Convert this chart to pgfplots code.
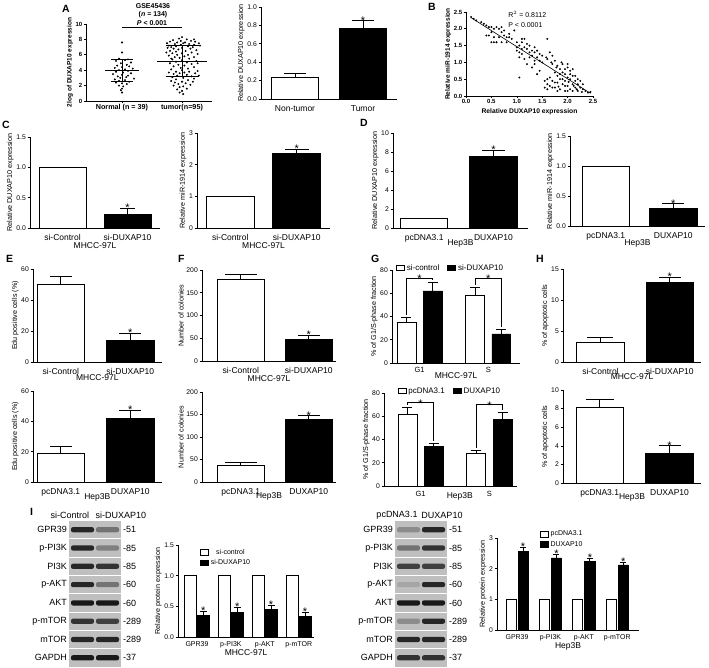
\documentclass[border=0pt]{standalone}
\usepackage{fontspec}
\setmainfont{Liberation Sans}
\usepackage{pgfplots}
\pgfplotsset{compat=1.18}

\pgfplotsset{
  gp/.style={scale only axis, anchor=south west, clip=false, ymin=0,
    axis x line*=bottom, axis y line*=left,
    axis line style={line width=0.8pt,-},
    tick style={black, line width=0.6pt}, tick align=outside, major tick length=2.5pt,
    ticklabel style={font=\fontsize{6.8}{7}\selectfont, inner sep=1.5pt},
    ylabel style={font=\fontsize{7.2}{8}\selectfont, inner sep=1pt},
    xlabel style={font=\fontsize{8.5}{9}\selectfont, inner sep=0pt},
    /pgf/number format/assume math mode=true,
    legend image code/.code={\draw[#1, line width=0.8pt] (0pt,-2.8pt) rectangle (8pt,2.8pt);}},
  cat/.style={xtick style={draw=none}, xticklabel style={font=\fontsize{8.5}{9}\selectfont, inner sep=0pt, yshift=-3.5pt}},
  xl/.style={xlabel style={at={(axis description cs:0.5,0)}, anchor=north, yshift=-#1}},
  dec/.style={y tick label style={/pgf/number format/.cd, fixed, fixed zerofill, precision=1, /tikz/.cd}},
  bar/.style={ybar, bar shift=0pt, draw=black, line width=0.8pt},
  err/.style={error bars/.cd, y dir=plus, y explicit,
    error bar style={line width=0.8pt, black},
    error mark options={rotate=90, line width=0.8pt, mark size=#1, black}},
  err/.default=11pt,
  lg/.style={legend style={draw=none, fill=none, inner sep=0pt, font=\fontsize{8}{9}\selectfont}},
}
\newcommand{\sig}[2]{\node[font=\fontsize{11}{11}\selectfont, anchor=south, inner sep=0pt, yshift=-3.5pt] at (axis cs:#1,#2) {*};}
\newcommand{\letter}[3]{\node[font=\bfseries\fontsize{10.5}{10}\selectfont, anchor=north west, inner sep=0pt] at (#1pt,#2pt) {#3};}

\begin{document}
\begin{tikzpicture}
\useasboundingbox (0,0) rectangle (709pt,667pt);

% ---------------- A: scatter
\begin{axis}[gp, at={(86pt,566pt)}, width=126pt, height=77pt, xmin=0.4, xmax=2.5, ymax=10,
  ytick={0,2,4,6,8,10}, xtick={1,2}, xticklabels={Normal (n = 39),tumor(n=95)},
  major tick length=2pt,
  ticklabel style={font=\bfseries\fontsize{6}{6}\selectfont},
  xticklabel style={font=\bfseries\fontsize{7.2}{8}\selectfont},
  ylabel={2log of DUXAP10 expression}, ylabel style={font=\bfseries\fontsize{6.5}{7}\selectfont}]
\addplot[only marks, mark=*, mark size=0.75pt, black] coordinates {
(1.0,7.6) (1.0,6.3) (0.95,5.5) (1.1,5.4) (1.05,5.3) (0.9,5.2) (1.15,5.0) (0.98,4.9)
(1.08,4.7) (0.92,4.6) (1.12,4.5) (1.0,4.4) (0.88,4.3) (1.18,4.2) (1.05,4.1) (0.95,4.0)
(1.1,3.9) (0.9,3.8) (1.02,3.7) (1.15,3.6) (0.85,3.5) (1.0,3.4) (1.1,3.3) (0.93,3.2)
(1.07,3.1) (0.97,3.0) (1.2,2.9) (0.88,2.8) (1.05,2.7) (0.95,2.6) (1.12,2.5) (0.9,2.4)
(1.0,2.3) (1.08,2.2) (0.95,2.0) (1.02,1.9) (1.0,1.6) (0.98,1.4) (1.0,1.1)};
\addplot[only marks, mark=*, mark size=0.75pt, black] coordinates {
(2.0,8.3) (1.95,8.1) (2.08,8.0) (1.85,7.9) (2.15,7.8) (1.8,7.7) (2.22,7.7) (1.92,7.6) (2.05,7.6) (1.75,7.5)
(2.28,7.5) (1.88,7.4) (2.12,7.4) (1.98,7.3) (2.2,7.3) (1.78,7.2) (2.3,7.2) (1.9,7.1) (2.1,7.1) (1.82,7.0)
(2.18,7.0) (2.0,6.9) (1.86,6.8) (2.14,6.8) (1.94,6.7) (2.24,6.6) (1.8,6.5) (2.06,6.5) (1.9,6.4) (2.16,6.3)
(1.84,6.2) (2.0,6.2) (2.26,6.1) (1.92,6.0) (2.1,6.0) (1.78,5.9) (2.04,5.8) (1.88,5.7) (2.2,5.7) (1.96,5.6)
(2.12,5.5) (1.84,5.4) (2.0,5.3) (2.24,5.2) (1.9,5.1) (2.08,5.0) (1.8,4.9) (2.16,4.8) (1.94,4.7) (2.04,4.6)
(1.86,4.5) (2.2,4.4) (1.98,4.3) (2.1,4.2) (1.82,4.1) (2.0,4.0) (2.26,3.9) (1.9,3.8) (2.12,3.8) (1.78,3.7)
(2.04,3.7) (1.96,3.6) (2.22,3.6) (1.86,3.5) (2.08,3.4) (1.92,3.3) (2.16,3.2) (1.84,3.1) (2.02,3.0) (2.2,2.9)
(1.9,2.8) (2.1,2.7) (1.82,2.6) (2.0,2.5) (2.18,2.5) (1.88,2.4) (2.06,2.3) (1.94,2.2) (2.14,2.1) (1.86,2.0)
(2.02,1.9) (1.96,1.8) (2.08,1.6) (1.92,1.5) (2.0,1.3) (1.96,1.1) (2.02,0.9)
(1.76,6.9) (1.98,7.8) (2.2,8.0) (1.82,5.5) (2.26,4.9) (2.28,3.3) (1.74,6.3) (2.02,7.5)};
% mean and SD
\addplot[black, line width=0.9pt] coordinates {(0.717,3.95) (1.283,3.95)};
\addplot[black, line width=0.9pt] coordinates {(1,2.5) (1,5.35)};
\addplot[black, line width=0.9pt] coordinates {(0.817,2.5) (1.183,2.5)};
\addplot[black, line width=0.9pt] coordinates {(0.817,5.35) (1.183,5.35)};
\addplot[black, line width=0.9pt] coordinates {(1.583,5.2) (2.417,5.2)};
\addplot[black, line width=0.9pt] coordinates {(2,3.2) (2,7.2)};
\addplot[black, line width=0.9pt] coordinates {(1.725,3.2) (2.275,3.2)};
\addplot[black, line width=0.9pt] coordinates {(1.725,7.2) (2.275,7.2)};
\draw[line width=0.9pt] (axis cs:1,9.6) -- (axis cs:2,9.6);
\node[font=\bfseries\fontsize{7}{7}\selectfont, anchor=south, inner sep=1pt] at (axis cs:1.5,9.6) {\textit{P} < 0.001};
\end{axis}
\node[font=\bfseries\fontsize{7}{7}\selectfont, inner sep=0pt] at (153pt,661pt) {GSE45436};
\node[font=\bfseries\fontsize{7}{7}\selectfont, inner sep=0pt] at (153pt,652.5pt) {(\textit{n} = 134)};

% ---------------- A: bars
\begin{axis}[gp, cat, dec, at={(261pt,568pt)}, width=136pt, height=92pt, xmin=0.5, xmax=2.5,
  ymax=1, ytick={0,0.2,0.4,0.6,0.8,1.0}, bar width=0.69, xtick={1,2},
  xticklabels={Non-tumor,Tumor}, ylabel={Relative DUXAP10 expression}]
\addplot[bar, fill=white, err] coordinates {(1,0.23) +- (0,0.045)};
\addplot[bar, fill=black, err] coordinates {(2,0.77) +- (0,0.08)};
\sig{2}{0.85}
\end{axis}

% ---------------- B: correlation
\begin{axis}[gp, at={(466pt,571pt)}, width=127pt, height=84pt, xmin=0, xmax=2.5, ymax=2.5,
  xtick={0,0.5,1,1.5,2,2.5}, ytick={0,0.5,1,1.5,2,2.5}, major tick length=2pt,
  ticklabel style={font=\bfseries\fontsize{6}{6}\selectfont},
  x tick label style={/pgf/number format/.cd, fixed, fixed zerofill, precision=1, /tikz/.cd},
  y tick label style={/pgf/number format/.cd, fixed, fixed zerofill, precision=1, /tikz/.cd},
  xlabel={Relative DUXAP10 expression}, ylabel={Relative miR-1914 expression},
  xlabel style={font=\bfseries\fontsize{6.7}{7}\selectfont, at={(axis description cs:0.5,0)}, anchor=north, yshift=-12pt},
  ylabel style={font=\bfseries\fontsize{6.5}{7}\selectfont}]
\addplot[only marks, mark=*, mark size=0.75pt, black] coordinates {
(0.1,2.35) (0.15,2.3) (0.2,2.25) (0.3,2.2) (0.35,2.15) (0.4,2.1) (0.45,2.05) (0.5,2.05) (0.55,2.0) (0.6,2.05)
(0.65,2.0) (0.7,2.05) (0.5,1.9) (0.45,1.8) (0.55,1.75) (0.6,1.6) (0.5,1.6) (0.65,1.75) (0.7,1.9) (0.75,1.8)
(0.8,1.6) (0.85,1.75) (0.9,1.7) (0.95,1.95) (0.7,1.6) (0.4,1.8) (0.75,1.95) (0.85,1.85) (0.55,1.6) (0.8,1.75)
(1.0,1.6) (1.0,1.45) (1.05,1.3) (1.05,1.5) (1.1,1.6) (1.1,1.7) (1.15,1.7) (1.15,1.45) (1.2,1.55) (1.2,1.4)
(1.25,1.3) (1.25,1.5) (1.3,1.35) (1.3,1.2) (1.35,1.45) (1.35,1.3) (1.4,1.15) (1.4,1.35) (1.45,1.25) (1.45,1.05)
(1.5,1.2) (1.5,1.0) (1.05,1.15) (1.1,1.25) (1.15,1.1) (1.2,0.95) (1.3,0.85) (1.35,1.05) (1.45,0.75) (1.05,0.55)
(1.6,1.7) (1.0,1.35) (1.1,1.4) (1.25,1.15) (1.35,0.95) (1.4,0.65)
(1.55,0.25) (1.6,0.35) (1.6,0.5) (1.65,0.3) (1.65,1.3) (1.7,1.2) (1.7,0.45) (1.75,0.25) (1.75,1.05) (1.8,0.9)
(1.8,0.6) (1.8,0.4) (1.85,0.8) (1.85,0.5) (1.85,0.2) (1.9,0.95) (1.9,0.7) (1.9,0.35) (1.95,0.65) (1.95,0.45)
(1.95,0.15) (2.0,0.85) (2.0,0.55) (2.0,0.3) (2.05,0.75) (2.05,0.5) (2.05,0.2) (2.1,0.6) (2.1,0.35) (2.1,0.15)
(2.15,0.45) (2.15,0.25) (2.2,0.35) (2.2,0.15) (2.25,0.25) (2.3,0.2) (2.35,0.15) (2.4,0.1) (2.45,0.12) (1.6,1.1)
(1.7,0.95) (1.75,0.7) (1.65,0.55) (1.55,0.45) (1.7,0.25) (1.8,0.15) (2.0,0.95) (1.95,0.8) (2.05,0.65) (2.1,0.8)
(2.15,0.6) (2.2,0.5) (2.25,0.45) (2.3,0.35) (1.9,0.5) (1.85,0.65) (1.75,0.4) (1.6,0.2) (2.0,0.15) (2.12,0.3)
(2.28,0.12) (1.88,1.0) (1.78,0.85) (1.68,1.0) (1.58,1.15) (1.95,0.3) (2.02,0.42) (2.18,0.2) (1.82,0.28)};
\addplot[black, line width=0.6pt] coordinates {(0.1,2.33) (2.45,0.08)};
\node[font=\fontsize{7}{7}\selectfont, anchor=west, inner sep=0pt] at (axis cs:0.83,2.42) {R$^2$ = 0.8112};
\node[font=\fontsize{7}{7}\selectfont, anchor=west, inner sep=0pt] at (axis cs:0.83,2.12) {P < 0.0001};
\end{axis}

% ---------------- C
\begin{axis}[gp, cat, dec, xl=14.5pt, at={(30pt,439pt)}, width=130pt, height=91pt, xmin=0.5, xmax=2.5,
  ymax=1.5, ytick={0,0.5,1,1.5}, bar width=0.72, xtick={1,2},
  xticklabels={si-Control,si-DUXAP10}, xlabel={MHCC-97L}, ylabel={Relative DUXAP10 expression}]
\addplot[bar, fill=white] coordinates {(1,1)};
\addplot[bar, fill=black, err=7.5pt] coordinates {(2,0.22) +- (0,0.10)};
\sig{2}{0.32}
\end{axis}
\begin{axis}[gp, cat, xl=14.5pt, at={(197pt,439pt)}, width=133pt, height=95pt, xmin=0.5, xmax=2.5,
  ymax=3, ytick={0,1,2,3}, bar width=0.72, xtick={1,2},
  xticklabels={si-Control,si-DUXAP10}, xlabel={MHCC-97L}, ylabel={Relative miR-1914 expression}]
\addplot[bar, fill=white] coordinates {(1,1)};
\addplot[bar, fill=black, err=12pt] coordinates {(2,2.35) +- (0,0.13)};
\sig{2}{2.48}
\end{axis}

% ---------------- D
\begin{axis}[gp, cat, xl=11.5pt, at={(393pt,439pt)}, width=135pt, height=95pt, xmin=0.55, xmax=2.5,
  ymax=10, ytick={0,2,4,6,8,10}, bar width=0.68, xtick={1,2},
  xticklabels={pcDNA3.1,\raisebox{-2pt}{DUXAP10}}, xlabel={Hep3B},
  ylabel={Relative DUXAP10 expression}]
\addplot[bar, fill=white] coordinates {(1,1)};
\addplot[bar, fill=black, err=11.5pt] coordinates {(2,7.5) +- (0,0.65)};
\sig{2}{8.15}
\end{axis}
\begin{axis}[gp, cat, dec, xl=13pt, at={(570pt,441pt)}, width=135pt, height=90pt, xmin=0.47, xmax=2.47,
  ymax=1.5, ytick={0,0.5,1,1.5}, bar width=0.7, xtick={1,2},
  xticklabels={pcDNA3.1,\raisebox{-2pt}{DUXAP10}}, xlabel={Hep3B},
  ylabel={Relative miR-1914 expression}]
\addplot[bar, fill=white] coordinates {(1,1)};
\addplot[bar, fill=black, err=11pt] coordinates {(2,0.30) +- (0,0.07)};
\sig{2}{0.37}
\end{axis}

% ---------------- E
\begin{axis}[gp, cat, xl=12.5pt, at={(33pt,305pt)}, width=128.6pt, height=93pt, xmin=0.6, xmax=2.45,
  ymax=60, ytick={0,20,40,60}, bar width=0.68, xtick={1,2},
  xticklabels={si-Control,si-DUXAP10}, xlabel={MHCC-97L}, ylabel={Edu positive cells (\%)}]
\addplot[bar, fill=white, err] coordinates {(1,50) +- (0,5)};
\addplot[bar, fill=black, err] coordinates {(2,14) +- (0,4.5)};
\sig{2}{18.5}
\end{axis}
\begin{axis}[gp, cat, xl=11.5pt, at={(33pt,185pt)}, width=128.6pt, height=91pt, xmin=0.6, xmax=2.45,
  ymax=60, ytick={0,20,40,60}, bar width=0.68, xtick={1,2},
  xticklabels={pcDNA3.1,\raisebox{-2pt}{DUXAP10}}, xlabel={Hep3B},
  ylabel={Edu positive cells (\%)}]
\addplot[bar, fill=white, err] coordinates {(1,19) +- (0,4.5)};
\addplot[bar, fill=black, err] coordinates {(2,42) +- (0,5.5)};
\sig{2}{47.5}
\end{axis}

% ---------------- F
\begin{axis}[gp, cat, xl=14pt, at={(202pt,306pt)}, width=134pt, height=91pt, xmin=0.43, xmax=2.4,
  ymax=200, ytick={0,50,100,150,200}, bar width=0.68, xtick={1,2},
  xticklabels={si-Control,si-DUXAP10}, xlabel={MHCC-97L}, ylabel={Number of colonies}]
\addplot[bar, fill=white, err=16pt] coordinates {(1,180) +- (0,10)};
\addplot[bar, fill=black, err] coordinates {(2,48) +- (0,9)};
\sig{2}{57}
\end{axis}
\begin{axis}[gp, cat, xl=10.5pt, at={(202pt,185pt)}, width=134pt, height=90pt, xmin=0.43, xmax=2.4,
  ymax=200, ytick={0,50,100,150,200}, bar width=0.68, xtick={1,2},
  xticklabels={pcDNA3.1,\raisebox{-2pt}{DUXAP10}}, xlabel={Hep3B},
  ylabel={Number of colonies}]
\addplot[bar, fill=white, err=16pt] coordinates {(1,37) +- (0,6)};
\addplot[bar, fill=black, err] coordinates {(2,139) +- (0,8)};
\sig{2}{147}
\end{axis}

% ---------------- G
\begin{axis}[gp, cat, lg, xl=9.5pt, at={(392pt,304pt)}, width=128pt, height=93pt, xmin=0.6, xmax=2.46,
  ymax=80, ytick={0,20,40,60,80}, bar width=0.275, xtick={1,2}, xticklabels={G1,S},
  xticklabel style={font=\fontsize{7.5}{8}\selectfont, yshift=1.5pt},
  xlabel={MHCC-97L}, ylabel={\% of G1/S-phase fraction},
  legend style={at={(0.03,1.0)}, anchor=west, yshift=2pt, legend columns=2,
    /tikz/every even column/.append style={column sep=6pt}}]
\addplot[bar, fill=white, err=5pt] coordinates {(0.81,35) +- (0,4) (1.81,58) +- (0,7)};
\addlegendentry{si-control}
\addplot[bar, fill=black, err=5pt] coordinates {(1.19,62) +- (0,7) (2.19,25) +- (0,4)};
\addlegendentry{si-DUXAP10}
\draw[line width=0.8pt] (axis cs:0.81,41) -- (axis cs:0.81,73) -- (axis cs:1.19,73) -- (axis cs:1.19,71);
\draw[line width=0.8pt] (axis cs:1.81,67) -- (axis cs:1.81,73) -- (axis cs:2.19,73) -- (axis cs:2.19,31);
\node[font=\fontsize{11}{11}\selectfont, anchor=south, inner sep=0pt, yshift=-5pt] at (axis cs:1,73) {*};
\node[font=\fontsize{11}{11}\selectfont, anchor=south, inner sep=0pt, yshift=-5pt] at (axis cs:2,73) {*};
\end{axis}
\begin{axis}[gp, cat, lg, at={(384pt,181pt)}, width=133pt, height=93pt, xmin=0.47, xmax=2.4,
  ymax=80, ytick={0,20,40,60,80}, bar width=0.275, xtick={1,2}, xticklabels={G1,S},
  xticklabel style={font=\fontsize{7.5}{8}\selectfont, yshift=1pt},
  xlabel={Hep3B}, xlabel style={at={(axis description cs:0.57,0)}, anchor=north, yshift=-6.5pt},
  ylabel={\% of G1/S-phase fraction},
  legend style={at={(0.1,1.0)}, anchor=west, yshift=2pt, legend columns=2,
    /tikz/every even column/.append style={column sep=6pt}}]
\addplot[bar, fill=white, err=5pt] coordinates {(0.81,62) +- (0,6) (1.81,28) +- (0,3)};
\addlegendentry{pcDNA3.1}
\addplot[bar, fill=black, err=5pt] coordinates {(1.19,34) +- (0,3) (2.19,57) +- (0,6)};
\addlegendentry{DUXAP10}
\draw[line width=0.8pt] (axis cs:0.81,70) -- (axis cs:0.81,72) -- (axis cs:1.19,72) -- (axis cs:1.19,39);
\draw[line width=0.8pt] (axis cs:1.81,33) -- (axis cs:1.81,70) -- (axis cs:2.19,70) -- (axis cs:2.19,65);
\node[font=\fontsize{11}{11}\selectfont, anchor=south, inner sep=0pt, yshift=-5pt] at (axis cs:1,72) {*};
\node[font=\fontsize{11}{11}\selectfont, anchor=south, inner sep=0pt, yshift=-5pt] at (axis cs:2,70) {*};
\end{axis}

% ---------------- H
\begin{axis}[gp, cat, xl=11.5pt, at={(563pt,305pt)}, width=138pt, height=93pt, xmin=0.46, xmax=2.45,
  ymax=15, ytick={0,5,10,15}, bar width=0.68, xtick={1,2},
  xticklabels={si-Control,si-DUXAP10}, xlabel={MHCC-97L}, ylabel={\% of apoptotic cells}]
\addplot[bar, fill=white, err=13pt] coordinates {(1,3.2) +- (0,0.7)};
\addplot[bar, fill=black, err] coordinates {(2,12.8) +- (0,0.9)};
\sig{2}{13.7}
\end{axis}
\begin{axis}[gp, cat, xl=10.5pt, at={(563pt,184pt)}, width=138pt, height=93pt, xmin=0.475, xmax=2.45,
  ymax=10, ytick={0,2,4,6,8,10}, bar width=0.68, xtick={1,2},
  xticklabels={pcDNA3.1,\raisebox{-2pt}{DUXAP10}}, xlabel={Hep3B},
  ylabel={\% of apoptotic cells}]
\addplot[bar, fill=white, err=14pt] coordinates {(1,8.1) +- (0,0.9)};
\addplot[bar, fill=black, err] coordinates {(2,3.2) +- (0,0.8)};
\sig{2}{4.0}
\end{axis}

% ---------------- I: bars
\begin{axis}[gp, cat, dec, lg, xl=12.5pt, at={(178pt,30pt)}, width=136pt, height=92pt, xmin=0.44, xmax=4.45,
  ymax=1.5, ytick={0,0.5,1,1.5}, bar width=0.35, xtick={1,2,3,4},
  xticklabels={GPR39,p-PI3K,p-AKT,p-mTOR}, xticklabel style={font=\fontsize{7}{8}\selectfont, yshift=1.5pt},
  xlabel={MHCC-97L}, ylabel={Relative protein expression},
  legend style={at={(0.16,0.98)}, anchor=north west, legend columns=1, font=\fontsize{7}{8}\selectfont}]
\addplot[bar, fill=white] coordinates {(0.815,1) (1.815,1) (2.815,1) (3.815,1)};
\addlegendentry{si-control}
\addplot[bar, fill=black, err=3.5pt] coordinates {(1.185,0.35) +- (0,0.07) (2.185,0.40) +- (0,0.08) (3.185,0.45) +- (0,0.07) (4.185,0.34) +- (0,0.06)};
\addlegendentry{si-DUXAP10}
\sig{1.185}{0.42}
\sig{2.185}{0.48}
\sig{3.185}{0.52}
\sig{4.185}{0.40}
\end{axis}
\begin{axis}[gp, cat, lg, xl=12.5pt, at={(497pt,37pt)}, width=142pt, height=92pt, xmin=0.4, xmax=4.65,
  ymax=3, ytick={0,1,2,3}, bar width=0.3, xtick={1,2,3,4},
  xticklabels={GPR39,p-PI3K,p-AKT,p-mTOR}, xticklabel style={font=\fontsize{7}{8}\selectfont, yshift=1.5pt},
  xlabel={Hep3B}, ylabel={Relative protein expression},
  legend style={at={(0.3,1.1)}, anchor=north west, legend columns=1, font=\fontsize{7}{8}\selectfont}]
\addplot[bar, fill=white] coordinates {(0.82,1) (1.82,1) (2.82,1) (3.82,1)};
\addlegendentry{pcDNA3.1}
\addplot[bar, fill=black, err=3pt] coordinates {(1.18,2.57) +- (0,0.13) (2.18,2.35) +- (0,0.13) (3.18,2.24) +- (0,0.11) (4.18,2.12) +- (0,0.10)};
\addlegendentry{DUXAP10}
\sig{1.18}{2.70}
\sig{2.18}{2.48}
\sig{3.18}{2.35}
\sig{4.18}{2.22}
\end{axis}

% ---------------- I: blots
\foreach \lab/\sz/\a/\b [count=\i from 0] in {GPR39/51/85/55,p-PI3K/85/85/50,PI3K/85/85/80,p-AKT/60/85/55,AKT/60/90/90,p-mTOR/289/80/75,mTOR/289/85/85,GAPDH/37/90/90}{
  \pgfmathsetmacro\yt{146-\i*18.3}
  \pgfmathsetmacro\yb{\yt-17.4}
  \pgfmathsetmacro\yc{\yt-8.7}
  \fill[black!25] (69pt,\yb pt) rectangle (121pt,\yt pt);
  \fill[black!\a, rounded corners=2pt] (71pt,\yc pt-2.6pt) rectangle (94pt,\yc pt+2.6pt);
  \fill[black!\b, rounded corners=2pt] (96pt,\yc pt-2.6pt) rectangle (119pt,\yc pt+2.6pt);
  \node[anchor=east, inner sep=0pt, font=\fontsize{9}{9}\selectfont] at (67pt,\yc pt) {\lab};
  \node[anchor=west, inner sep=0pt, font=\fontsize{9}{9}\selectfont] at (123pt,\yc pt) {-\sz};
}
\foreach \lab/\sz/\a/\b [count=\i from 0] in {GPR39/51/45/85,p-PI3K/85/55/80,PI3K/85/75/75,p-AKT/60/35/85,AKT/60/90/90,p-mTOR/289/45/85,mTOR/289/85/85,GAPDH/37/80/80}{
  \pgfmathsetmacro\yt{146-\i*18.3}
  \pgfmathsetmacro\yb{\yt-17.4}
  \pgfmathsetmacro\yc{\yt-8.7}
  \fill[black!25] (395pt,\yb pt) rectangle (447pt,\yt pt);
  \fill[black!\a, rounded corners=2pt] (397pt,\yc pt-2.6pt) rectangle (420pt,\yc pt+2.6pt);
  \fill[black!\b, rounded corners=2pt] (422pt,\yc pt-2.6pt) rectangle (445pt,\yc pt+2.6pt);
  \node[anchor=east, inner sep=0pt, font=\fontsize{9}{9}\selectfont] at (393pt,\yc pt) {\lab};
  \node[anchor=west, inner sep=0pt, font=\fontsize{9}{9}\selectfont] at (449pt,\yc pt) {-\sz};
}
\node[font=\fontsize{9}{9}\selectfont] at (70pt,152pt) {si-Control};
\node[font=\fontsize{9}{9}\selectfont] at (121pt,152pt) {si-DUXAP10};
\node[font=\fontsize{9}{9}\selectfont] at (397pt,152pt) {pcDNA3.1};
\node[font=\fontsize{9}{9}\selectfont] at (442pt,152pt) {DUXAP10};

% ---------------- panel letters
\letter{62}{662}{A}
\letter{428}{664}{B}
\letter{2}{546}{C}
\letter{360}{548}{D}
\letter{6}{412}{E}
\letter{178}{412}{F}
\letter{371}{412}{G}
\letter{536}{412}{H}
\letter{30}{159}{I}
\end{tikzpicture}
\end{document}
